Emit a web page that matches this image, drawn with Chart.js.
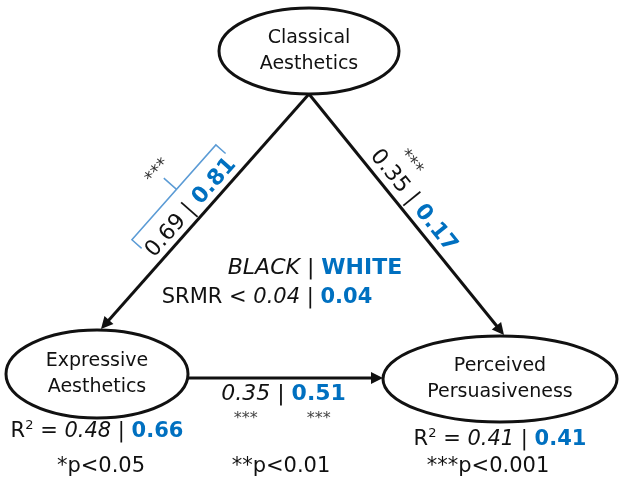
<!DOCTYPE html>
<html>
<head>
<meta charset="utf-8">
<script src="https://cdn.jsdelivr.net/npm/chart.js@4"></script>
<style>
  html, body { margin: 0; padding: 0; background: #fff; }
  #wrap { width: 619px; height: 480px; }
</style>
</head>
<body>
<div id="wrap"><canvas id="pathChart" width="619" height="480"></canvas></div>
<script>
// DATA ##############################################################
var nodeNames = [['Classical', 'Aesthetics'], ['Expressive', 'Aesthetics'], ['Perceived', 'Persuasiveness']];
var nodeX = [309, 97, 500];
var nodeY = [51, 374, 379];
var edgeFrom = [0, 0, 1];
var edgeTo = [1, 2, 2];
var coefBlack = [0.69, 0.35, 0.35];
var coefWhite = [0.81, 0.17, 0.51];
var sigBlack = ['***', '***', '***'];
var sigWhite = ['***', '', '***'];
var r2Black = [null, 0.48, 0.41];
var r2White = [null, 0.66, 0.41];
var srmrBlack = 0.04;
var srmrWhite = 0.04;
var groupLabels = ['BLACK', 'WHITE'];
var pLevels = ['*p<0.05', '**p<0.01', '***p<0.001'];

// LAYOUT ############################################################
var nodeRx = [90, 91, 117];
var nodeRy = [43, 44, 43];
var labelT = [0.52, 0.48, 0.49];
var labelOffset = [13, 14, -16];   // + = above the text line
var r2Dy = [0, 58, 61];
var pLevelX = [101, 281, 488];
var pLevelY = 467;

var FONT = '"DejaVu Sans", Verdana, sans-serif';
var BLUE = '#0070C0';
var INK = '#111111';

function f(size, style) { return (style || '') + ' ' + size + 'px ' + FONT; }

// anchor points on the ellipses
function edgeEnds(i) {
    var a = edgeFrom[i], b = edgeTo[i];
    if (Math.abs(nodeY[a] - nodeY[b]) < 30) {
        return [nodeX[a] + nodeRx[a], nodeY[a] + 4, nodeX[b] - nodeRx[b], nodeY[a] + 4];
    }
    return [nodeX[a], nodeY[a] + nodeRy[a], nodeX[b] + 4, nodeY[b] - nodeRy[b] - 1];
}

var edgeDatasets = edgeFrom.map(function(a, i) {
    var e = edgeEnds(i);
    var dx = e[2] - e[0], dy = e[3] - e[1], len = Math.sqrt(dx * dx + dy * dy);
    return {
        data: [{ x: e[0], y: e[1] }, { x: e[2] - dx / len * 8, y: e[3] - dy / len * 8 }],
        showLine: true,
        borderColor: INK,
        borderWidth: 3,
        pointRadius: 0
    };
});

function drawRuns(ctx, runs, x, y, angle) {
    ctx.save();
    ctx.translate(x, y);
    ctx.rotate(angle || 0);
    ctx.textBaseline = 'middle';
    ctx.textAlign = 'left';
    var total = 0;
    runs.forEach(function(r) { ctx.font = r.font; r.w = ctx.measureText(r.text).width; total += r.w; });
    var cx = -total / 2;
    runs.forEach(function(r) {
        ctx.font = r.font;
        ctx.fillStyle = r.color || INK;
        ctx.fillText(r.text, cx, r.dy || 0);
        r.mid = cx + r.w / 2;
        cx += r.w;
    });
    ctx.restore();
    return total;
}

var diagramPlugin = {
    id: 'diagram',
    afterDatasetsDraw: function(chart) {
        var ctx = chart.ctx;
        var xs = chart.scales.x, ys = chart.scales.y;
        var px = function(v) { return xs.getPixelForValue(v); };
        var py = function(v) { return ys.getPixelForValue(v); };

        // nodes
        nodeNames.forEach(function(lines, i) {
            ctx.save();
            ctx.beginPath();
            ctx.ellipse(px(nodeX[i]), py(nodeY[i]), px(nodeX[i] + nodeRx[i]) - px(nodeX[i]),
                py(nodeY[i] + nodeRy[i]) - py(nodeY[i]), 0, 0, Math.PI * 2);
            ctx.lineWidth = 3;
            ctx.strokeStyle = INK;
            ctx.stroke();
            ctx.restore();
            lines.forEach(function(t, k) {
                drawRuns(ctx, [{ text: t, font: f(19) }], px(nodeX[i]), py(nodeY[i]) + (k - 0.5) * 26);
            });
        });

        // arrow heads and edge labels
        edgeFrom.forEach(function(a, i) {
            var e = edgeEnds(i);
            var x0 = px(e[0]), y0 = py(e[1]), x1 = px(e[2]), y1 = py(e[3]);
            var ang = Math.atan2(y1 - y0, x1 - x0);
            ctx.save();
            ctx.translate(x1, y1);
            ctx.rotate(ang);
            ctx.beginPath();
            ctx.moveTo(0, 0);
            ctx.lineTo(-12, -6);
            ctx.lineTo(-12, 6);
            ctx.closePath();
            ctx.fillStyle = INK;
            ctx.fill();
            ctx.restore();

            var tAng = (x1 < x0) ? ang + Math.PI : ang;
            var ux = Math.sin(tAng), uy = -Math.cos(tAng);
            var mx = x0 + (x1 - x0) * labelT[i] + ux * labelOffset[i];
            var my = y0 + (y1 - y0) * labelT[i] + uy * labelOffset[i];
            var runs = [
                { text: coefBlack[i].toFixed(2), font: f(22, i === 2 ? 'italic' : '') },
                { text: ' | ', font: f(22) },
                { text: coefWhite[i].toFixed(2), font: f(22, 'bold'), color: BLUE }
            ];
            var w = drawRuns(ctx, runs, mx, my, tAng);

            ctx.save();
            ctx.translate(mx, my);
            ctx.rotate(tAng);
            if (i === 0) {
                // bracket over both groups
                var h = w / 2 + 1;
                ctx.beginPath();
                ctx.moveTo(-h, -10);
                ctx.lineTo(-h, -23);
                ctx.lineTo(h, -23);
                ctx.lineTo(h, -10);
                ctx.moveTo(4, -23);
                ctx.lineTo(4, -40);
                ctx.strokeStyle = '#5B9BD5';
                ctx.lineWidth = 1.5;
                ctx.stroke();
                drawRuns(ctx, [{ text: sigBlack[i], font: f(18), color: '#333' }], 5, -49);
            } else if (i === 1) {
                drawRuns(ctx, [{ text: sigBlack[i], font: f(18), color: '#333' }], runs[0].mid + 6, -22);
            } else {
                drawRuns(ctx, [{ text: sigBlack[i], font: f(16), color: '#444' }], runs[0].mid, 25);
                drawRuns(ctx, [{ text: sigWhite[i], font: f(16), color: '#444' }], runs[2].mid, 25);
            }
            ctx.restore();
        });

        // group legend and fit
        drawRuns(ctx, [
            { text: groupLabels[0], font: f(22, 'italic') },
            { text: ' | ', font: f(22) },
            { text: groupLabels[1], font: f(22, 'bold'), color: BLUE }
        ], px(315), py(268));
        drawRuns(ctx, [
            { text: 'SRMR < ', font: f(21) },
            { text: srmrBlack.toFixed(2), font: f(21, 'italic') },
            { text: ' | ', font: f(21) },
            { text: srmrWhite.toFixed(2), font: f(21, 'bold'), color: BLUE }
        ], px(267), py(298));

        // R squared
        r2Black.forEach(function(v, i) {
            if (v === null) return;
            drawRuns(ctx, [
                { text: 'R', font: f(21) },
                { text: '2', font: f(13), dy: -6 },
                { text: ' = ', font: f(21) },
                { text: v.toFixed(2), font: f(21, 'italic') },
                { text: ' | ', font: f(21) },
                { text: r2White[i].toFixed(2), font: f(21, 'bold'), color: BLUE }
            ], px(nodeX[i]), py(nodeY[i] + r2Dy[i]));
        });

        // significance levels
        pLevels.forEach(function(t, i) {
            drawRuns(ctx, [{ text: t, font: f(21) }], px(pLevelX[i]), py(pLevelY));
        });
    }
};

new Chart(document.getElementById('pathChart').getContext('2d'), {
    type: 'scatter',
    data: { datasets: edgeDatasets },
    options: {
        responsive: false,
        animation: false,
        layout: { padding: 0 },
        plugins: { legend: { display: false }, tooltip: { enabled: false } },
        scales: {
            x: { type: 'linear', min: 0, max: 619, display: false },
            y: { type: 'linear', min: 0, max: 480, reverse: true, display: false }
        }
    },
    plugins: [diagramPlugin]
});
</script>
</body>
</html>
